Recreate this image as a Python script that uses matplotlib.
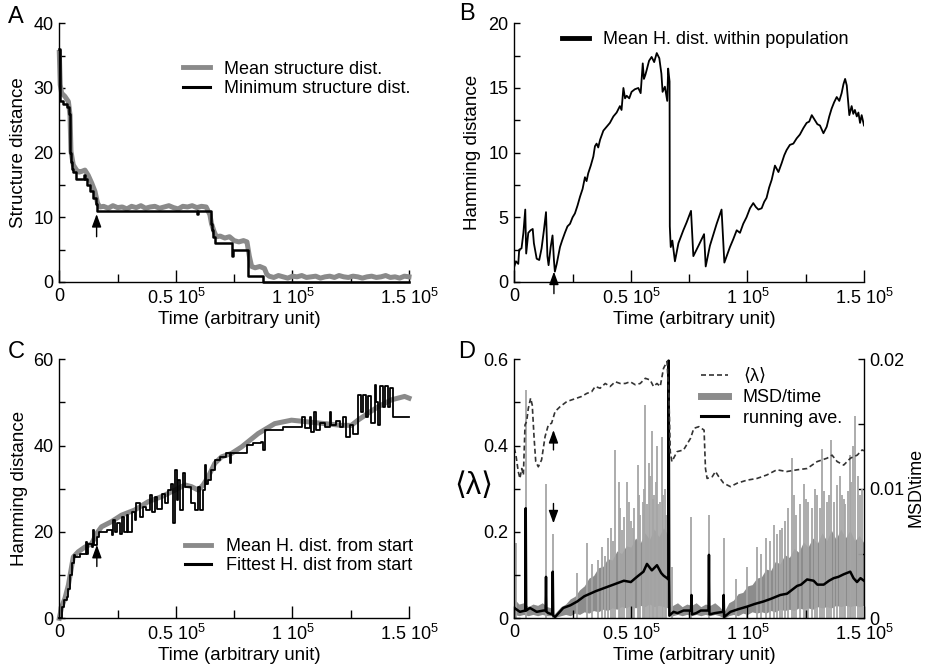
import matplotlib
matplotlib.use("Agg")
import matplotlib.pyplot as plt
from matplotlib.lines import Line2D

plt.rcParams["font.family"] = ["Liberation Sans", "DejaVu Sans"]
plt.rcParams["mathtext.fontset"] = "custom"
plt.rcParams["mathtext.rm"] = "Liberation Sans"
plt.rcParams["mathtext.it"] = "Liberation Sans:italic"
plt.rcParams["font.size"] = 13

# all times are in units of 1000 (arbitrary unit)

# --- panel A: structure distance ---
a_mean_t = [0, 0.4, 1, 2.4, 3.9, 4.6, 5, 6, 7.4, 8.5, 9.6, 11, 12.4, 13.9, 15.3, 16.4, 17.4,
            19, 21, 23, 25, 27, 29, 31, 33, 35, 37, 39, 41, 43, 45, 47, 49, 51, 53, 55, 57, 59, 61, 63,
            64.6, 65.3, 66.4, 67.4, 69, 71, 73, 75, 77, 79, 80.5, 81.5, 82.5, 84, 86, 88, 89,
            90, 92, 94, 96, 98, 100, 102, 104, 106, 108, 110, 112, 114, 116, 118, 120, 122, 124,
            126, 128, 130, 132, 134, 136, 138, 140, 142, 144, 146, 148, 150]
a_mean = [35.5, 30.5, 29.2, 28.7, 27.9, 25.8, 20.2, 18.1, 17.3, 17.0, 17.1, 17.3, 16.5, 15.3, 14.0, 12.2, 11.6,
          11.7, 11.4, 11.8, 11.5, 11.6, 11.3, 11.7, 11.5, 11.8, 11.4, 11.6, 11.7, 11.4, 11.6, 11.8, 11.5,
          11.3, 11.7, 11.6, 11.8, 11.5, 11.7, 11.6,
          10.4, 9.0, 7.8, 7.0, 7.1, 6.8, 7.0, 6.4, 6.2, 6.4, 6.2, 4.0, 2.4, 2.2, 2.4, 2.1, 1.2,
          0.9, 0.7, 1.0, 0.8, 0.6, 0.9, 0.8, 1.0, 0.7, 0.8, 0.9, 0.6, 0.8, 0.9, 0.7, 1.0, 0.8, 0.7,
          0.9, 0.8, 0.6, 0.8, 0.9, 0.7, 0.8, 1.0, 0.7, 0.8, 0.6, 0.9, 0.8]
a_min_t = [0, 0.2, 0.5, 1.7, 3.1, 4.1, 4.6, 5.0, 5.5, 6.0, 7.0, 10.5, 11.0, 11.7, 13.1, 14.6, 15.7,
           16.3, 58.9, 59.3, 65.0, 65.3, 66.1, 67.0, 73.9, 74.2, 74.5, 81.0, 87.4, 150]
a_min = [36, 32, 28, 27.5, 27, 26, 20, 18.5, 17.5, 17, 16, 16.5, 16, 15, 14, 13, 12,
         11, 10.5, 11, 9, 8, 7, 6, 5, 4, 5, 1, 0, 0]

# --- panel B: mean Hamming distance within population ---
b_t = [0, 0.7, 1.7, 2.1, 3.1, 3.9, 4.7, 5.1, 6.0, 7.0, 7.9, 8.4, 9.6, 10.7, 11.7, 12.7, 13.6,
       14.2, 14.7, 15.6, 16.4, 17.0, 17.4, 18.2, 19.6, 20.5, 21.7, 22.8, 23.9, 25.0, 26.0, 27.1,
       28.2, 29.3, 30.3, 31.0, 31.7, 32.8, 33.9, 34.6, 35.3, 36.0, 36.8, 38.2, 39.6, 41.0, 42.5,
       43.9, 45.3, 46.0, 46.8, 47.5, 48.2, 49.3, 50.3, 51.7, 53.2, 54.2, 55.1, 55.6, 56.2, 56.8,
       57.8, 58.9, 60.0, 61.1, 62.2, 63.1, 63.6, 64.6, 65.6, 66.0, 66.6, 66.7, 67.1, 67.8, 68.9,
       70.4, 72.5, 73.9, 75.8, 76.8, 79.0, 81.4, 82.1, 83.9, 86.8, 88.9, 90.1, 92.5, 93.9, 95.4,
       96.8, 98.2, 99.6, 101.1, 102.5, 103.6, 104.7, 106.1, 107.2, 108.2, 109.3, 110.4, 111.8,
       113.3, 114.7, 115.8, 116.8, 118.2, 119.7, 121.1, 122.5, 124.0, 125.4, 126.5, 127.6, 129.0,
       130.0, 131.1, 132.6, 134.0, 135.1, 136.1, 137.2, 138.3, 139.4, 140.4, 141.2, 141.9, 142.6,
       143.7, 144.7, 145.4, 146.1, 146.9, 147.6, 148.3, 149.0, 150.0]
b_val = [1.2, 1.6, 1.4, 2.5, 2.6, 3.8, 5.6, 2.2, 3.8, 4.0, 4.1, 3.0, 1.8, 1.7, 2.6, 4.0, 5.4,
         2.0, 1.3, 2.7, 3.6, 1.7, 0.8, 1.4, 2.7, 3.2, 3.8, 4.3, 4.5, 5.0, 5.3, 5.9,
         6.6, 7.2, 8.1, 7.8, 8.4, 9.0, 9.7, 10.5, 10.7, 10.4, 11.0, 11.7, 12.0, 12.3, 12.8,
         13.1, 13.6, 13.3, 15.0, 14.2, 14.4, 14.2, 14.7, 14.9, 15.0, 14.6, 16.9, 15.7, 16.0, 16.4,
         17.1, 17.4, 17.0, 17.7, 17.3, 16.1, 14.7, 15.1, 14.0, 16.5, 15.5, 4.3, 2.7, 3.2, 1.6,
         3.0, 4.0, 4.6, 5.5, 2.0, 2.8, 3.7, 1.2, 2.8, 4.5, 5.6, 1.5, 2.7, 3.3, 4.0,
         3.8, 4.5, 5.0, 5.7, 6.1, 5.8, 5.6, 5.7, 6.2, 6.5, 7.3, 7.9, 9.0,
         8.5, 9.2, 9.8, 10.2, 10.6, 10.7, 11.1, 11.4, 11.9, 12.3, 12.4, 12.9, 12.5,
         12.2, 12.1, 11.5, 12.0, 12.8, 13.4, 13.9, 14.3, 14.0, 14.6, 15.3, 15.7, 15.2,
         12.9, 13.6, 13.0, 13.3, 12.8, 13.1, 12.3, 12.9, 12.1]

# --- panel C: Hamming distance from start ---
c_mean_t = [0, 1.0, 2.4, 3.9, 5.0, 6.0, 8.1, 11.0, 13.9, 16.0, 18.1, 22.4, 26.7, 32.4, 38.1, 43.9,
            49.6, 53.9, 56.7, 59.6, 61.7, 63.9, 66.7, 69.6, 73.9, 78.2, 85.3, 92.4, 99.6, 106.7,
            113.9, 121.0, 125.3, 128.1, 132.4, 136.7, 142.4, 148.1, 150]
c_mean = [0, 2.6, 4.6, 7.7, 11.1, 14.2, 15.4, 16.5, 17.3, 19.6, 21.2, 22.4, 23.9, 25.1, 27.0, 28.2,
          29.7, 30.9, 30.5, 29.7, 30.9, 32.8, 35.9, 37.4, 38.2, 39.7, 42.8, 45.1, 45.9, 45.5,
          45.1, 44.7, 44.7, 45.9, 47.5, 49.0, 50.6, 51.4, 51.0]
c_fit_t = [0, 1.0, 2.0, 3.1, 3.9, 4.6, 5.3, 6.3, 6.7, 8.9, 11.0, 11.4, 12.0, 12.4, 13.9, 14.6, 15.0,
           16.0, 17.1, 20.3, 22.4, 23.1, 23.9, 24.6, 26.0, 26.7, 27.7, 28.9, 29.6, 31.0, 32.4, 33.1,
           34.6, 36.0, 37.4, 38.9, 39.6, 41.0, 41.7, 43.9, 45.3, 46.7, 48.1, 48.9, 49.6, 50.3, 51.0,
           51.7, 52.9, 53.9, 56.0, 56.7, 58.1, 59.6, 60.3, 61.7, 62.4, 63.1, 63.9, 64.9, 66.7, 68.9,
           71.7, 73.1, 73.6, 77.4, 80.3, 83.1, 86.7, 87.4, 88.1, 93.1, 96.0, 100.3, 103.9, 105.3,
           107.4, 108.1, 109.1, 110.3, 111.7, 113.9, 116.0, 116.7, 118.9, 120.3, 121.7, 123.1, 124.6,
           126.0, 128.1, 129.6, 130.3, 131.7, 132.4, 133.9, 135.3, 136.0, 136.7, 137.4, 138.9, 139.6,
           141.0, 141.7, 143.1, 150]
c_fit = [0, 2.6, 4.2, 5.0, 6.9, 10.0, 12.7, 14.6, 14.2, 15.0, 15.0, 17.7, 15.0, 17.3, 16.5, 20.4, 16.9,
         18.9, 20.0, 20.4, 19.3, 22.7, 20.0, 22.0, 19.6, 23.5, 20.0, 23.9, 20.0, 24.7, 22.7, 26.6,
         23.5, 25.8, 25.1, 28.5, 24.7, 28.2, 25.4, 28.9, 26.6, 29.7, 31.2, 22.0, 34.3, 27.4, 32.0,
         25.1, 33.6, 30.5, 30.5, 26.6, 25.1, 30.5, 25.1, 29.7, 35.5, 31.2, 32.0, 34.3, 36.7, 37.4,
         38.2, 35.9, 38.2, 38.2, 40.1, 40.5, 40.9, 39.0, 43.6, 43.6, 44.4, 44.4, 46.7, 44.0,
         46.7, 43.2, 47.9, 43.6, 45.2, 44.4, 47.9, 44.8, 45.6, 44.4, 46.7, 42.1, 44.8,
         42.8, 51.7, 47.9, 51.7, 46.7, 51.4, 45.2, 54.1, 50.0, 44.8, 53.7, 49.0, 53.7,
         49.0, 53.3, 46.7, 46.7]

# --- panel D: <lambda> (left) and MSD/time (right) ---
d_lam_t = [0, 0.7, 1.7, 2.4, 3.2, 3.9, 4.6, 5.3, 6.0, 7.0, 7.7, 8.5, 9.2, 10.3, 11.7, 13.2, 14.6,
           16.0, 17.5, 19.6, 22.5, 24.6, 26.8, 28.9, 31.1, 33.2, 34.7, 36.8, 39.0, 41.1, 43.3, 45.4,
           47.6, 49.7, 51.9, 54.0, 56.2, 58.3, 59.7, 61.2, 62.6, 64.0, 65.5, 66.3, 66.9, 67.6, 69.8,
           72.6, 75.6, 77.0, 79.2, 81.4, 82.0, 82.7, 84.9, 86.3, 87.7, 89.8, 92.7, 95.6, 99.8, 104.1,
           108.3, 112.6, 116.9, 121.3, 125.6, 129.9, 134.2, 136.3, 138.5, 141.3, 144.2, 147.1, 149.2, 150]
d_lam = [0.394, 0.378, 0.340, 0.324, 0.347, 0.332, 0.448, 0.456, 0.486, 0.510, 0.494, 0.417, 0.363,
         0.351, 0.367, 0.421, 0.448, 0.452, 0.479, 0.490, 0.502, 0.506, 0.510, 0.514, 0.521, 0.525,
         0.537, 0.533, 0.544, 0.537, 0.548, 0.544, 0.544, 0.548, 0.541, 0.544, 0.556, 0.552, 0.537,
         0.544, 0.537, 0.579, 0.595, 0.517, 0.386, 0.363, 0.386, 0.390, 0.417, 0.440, 0.444, 0.436,
         0.347, 0.324, 0.328, 0.340, 0.328, 0.313, 0.305, 0.313, 0.320, 0.324, 0.332, 0.344, 0.340,
         0.344, 0.347, 0.363, 0.371, 0.378, 0.363, 0.355, 0.371, 0.378, 0.390, 0.388]

d_band_t = [0, 2, 4, 6, 8, 10, 12, 14, 16, 17, 18, 20, 22, 24, 26, 28, 30, 32, 34, 36, 38, 40, 42, 44,
            46, 48, 50, 52, 54, 56, 58, 60, 62, 64, 66, 67, 68, 70, 72, 74, 76, 78, 80, 82, 84, 86, 88,
            90, 92, 94, 96, 98, 100, 102, 104, 106, 108, 110, 112, 114, 116, 118, 120, 122, 124, 126,
            128, 130, 132, 134, 136, 138, 140, 142, 144, 146, 148, 150]
d_band_hi = [0.0015, 0.0011, 0.0012, 0.0009, 0.0011, 0.0010, 0.0012, 0.0009, 0.0008, 0.0003, 0.0005,
             0.0009, 0.0011, 0.0015, 0.0017, 0.0022, 0.0025, 0.0031, 0.0033, 0.0039, 0.0040, 0.0046,
             0.0045, 0.0052, 0.0050, 0.0056, 0.0055, 0.0062, 0.0058, 0.0066, 0.0061, 0.0069, 0.0063,
             0.0070, 0.0064, 0.0009, 0.0010, 0.0012, 0.0009, 0.0011, 0.0010, 0.0012, 0.0009, 0.0011,
             0.0010, 0.0012, 0.0009, 0.0005, 0.0012, 0.0014, 0.0019, 0.0020, 0.0025, 0.0026, 0.0031,
             0.0032, 0.0038, 0.0037, 0.0044, 0.0042, 0.0049, 0.0047, 0.0054, 0.0051, 0.0059, 0.0055,
             0.0062, 0.0058, 0.0066, 0.0060, 0.0068, 0.0061, 0.0069, 0.0062, 0.0068, 0.0060, 0.0064,
             0.0058]
d_band_lo = [0.0003, 0.0002, 0.0003, 0.0002, 0.0003, 0.0002, 0.0003, 0.0002, 0.0002, 0.0000, 0.0001,
             0.0002, 0.0003, 0.0002, 0.0004, 0.0003, 0.0005, 0.0004, 0.0006, 0.0005, 0.0007, 0.0006,
             0.0008, 0.0007, 0.0009, 0.0008, 0.0010, 0.0008, 0.0010, 0.0009, 0.0011, 0.0009, 0.0010,
             0.0009, 0.0008, 0.0001, 0.0002, 0.0003, 0.0002, 0.0003, 0.0002, 0.0003, 0.0002, 0.0003,
             0.0002, 0.0003, 0.0002, 0.0000, 0.0002, 0.0003, 0.0002, 0.0004, 0.0003, 0.0005, 0.0004,
             0.0005, 0.0004, 0.0006, 0.0005, 0.0007, 0.0006, 0.0007, 0.0006, 0.0008, 0.0007, 0.0008,
             0.0007, 0.0009, 0.0008, 0.0009, 0.0008, 0.0010, 0.0009, 0.0010, 0.0009, 0.0010, 0.0009,
             0.0010]
d_spike_t = [0.7, 4.9, 13.6, 16.5, 27, 31, 36, 40, 43.3, 44.8, 46, 48.3, 50, 51.5, 52.9, 54, 55, 56.2,
             57.7, 59, 60, 61.2, 62.5, 63.3, 64.5, 67.5, 76, 83.5, 89.8, 95, 100, 104, 108, 111.2, 114,
             116, 119, 121, 124.4, 126, 127.6, 130, 131.9, 134, 135.7, 138.4, 140.5, 142, 143.8, 145.4,
             146.1, 147.5, 149,
             33.5, 37.5, 38.8, 41.5, 42.3, 45.5, 47, 49.2, 50.8, 53.6, 55.6, 57, 58.3, 59.6, 60.6,
             61.8, 63.8, 65.2, 106, 109.5, 112.5, 115, 117.5, 120, 122.5, 125.2, 128.8, 131, 133,
             135, 137, 139.5, 141.3, 143, 144.6, 148.2]
d_spike = [0.0058, 0.0176, 0.0104, 0.0065, 0.0035, 0.0058, 0.0045, 0.0062, 0.0130, 0.0105, 0.0068,
           0.0105, 0.0075, 0.0085, 0.0118, 0.0080, 0.0090, 0.0165, 0.0120, 0.0145, 0.0095, 0.0133,
           0.0090, 0.0140, 0.0100, 0.0040, 0.0078, 0.0080, 0.0062, 0.0030, 0.0040, 0.0055, 0.0062,
           0.0072, 0.0068, 0.0075, 0.0124, 0.0080, 0.0104, 0.0090, 0.0085, 0.0095, 0.0131, 0.0090,
           0.0138, 0.0103, 0.0095, 0.0088, 0.0126, 0.0133, 0.0156, 0.0110, 0.0100,
           0.0042, 0.0055, 0.0048, 0.0070, 0.0060, 0.0085, 0.0078, 0.0090, 0.0070, 0.0095, 0.0100,
           0.0088, 0.0110, 0.0092, 0.0105, 0.0088, 0.0095, 0.0080, 0.0050, 0.0060, 0.0065, 0.0070,
           0.0085, 0.0095, 0.0088, 0.0092, 0.0100, 0.0085, 0.0098, 0.0095, 0.0090, 0.0110, 0.0092,
           0.0098, 0.0105, 0.0095]
d_run_t = [0, 2.4, 4.7, 4.9, 5.1, 6.7, 9.6, 12.5, 13.4, 13.6, 13.8, 14.6, 16.3, 16.5, 16.7, 17.5, 21,
           24, 27, 30, 32.5, 35, 38, 41, 44, 47, 50, 52.6, 55.4, 56.9, 59, 61.2, 63, 64, 65.5, 66.1,
           66.2, 66.5, 68.3, 70, 72.6, 75.8, 76, 76.2, 78, 80, 83.3, 83.5, 83.7, 86, 89.6, 89.8, 90.0,
           92.7, 96, 99.8, 103, 106.9, 110, 114.1, 117, 121.3, 123, 125.6, 128.4, 130, 132.7, 135,
           137, 139, 141.3, 144.1, 145.5, 147, 148.5, 150]
d_run = [0.0008, 0.0005, 0.0006, 0.0085, 0.0006, 0.0008, 0.0005, 0.0006, 0.0006, 0.0032, 0.0005,
         0.0004, 0.0003, 0.0036, 0.0002, 0.0001, 0.0008, 0.0010, 0.0013, 0.0017, 0.0019, 0.0021,
         0.0023, 0.0025, 0.0027, 0.0029, 0.0028, 0.0032, 0.0036, 0.0042, 0.0037, 0.0041, 0.0035,
         0.0033, 0.0031, 0.0030, 0.0199, 0.0002, 0.0005, 0.0004, 0.0006, 0.0006, 0.0018, 0.0003,
         0.0004, 0.0006, 0.0006, 0.0049, 0.0003, 0.0004, 0.0005, 0.0018, 0.0001, 0.0005, 0.0007,
         0.0009, 0.0011, 0.0013, 0.0015, 0.0018, 0.0019, 0.0025, 0.0026, 0.0030, 0.0029, 0.0026,
         0.0026, 0.0029, 0.0031, 0.0032, 0.0034, 0.0036, 0.0031, 0.0028, 0.0031, 0.0029]

K = 1000.0
XTICKS = [0, 50000, 100000, 150000]
XLABELS = ["0", r"0.5 $10^{5}$", r"1 $10^{5}$", r"1.5 $10^{5}$"]
GRAY = "#8a8a8a"
FS = 13


def ms(ts):
    return [t * K for t in ts]


def style(ax, ymax, ymajor, yminor, ylab_x=-0.092):
    ax.set_xlim(0, 150000)
    ax.set_ylim(0, ymax)
    ax.spines[["top", "right"]].set_visible(False)
    for s in ax.spines.values():
        s.set_linewidth(1.0)
    ax.set_xticks(XTICKS)
    ax.set_xticklabels(XLABELS)
    ax.set_xticks([25000, 75000, 125000], minor=True)
    ax.set_yticks(ymajor)
    ax.set_yticks(yminor, minor=True)
    ax.tick_params(which="both", direction="in", width=1, labelsize=FS)
    ax.tick_params(axis="x", which="major", length=9, pad=4)
    ax.tick_params(axis="x", which="minor", length=5.5)
    ax.tick_params(axis="y", which="both", length=4.5, pad=4)
    ax.set_xlabel("Time (arbitrary unit)", fontsize=13.5)
    ax.xaxis.set_label_coords(0.515, -0.112)
    ax.yaxis.set_label_coords(ylab_x, 0.5)


def arrow(ax, t, y0, y1):
    ax.annotate("", xy=(t * K, y1), xytext=(t * K, y0), annotation_clip=False,
                arrowprops=dict(arrowstyle="-|>,head_length=0.6,head_width=0.22",
                                color="k", lw=1.0, shrinkA=0, shrinkB=0))


fig = plt.figure(figsize=(9.25, 6.69), dpi=100)
W, H = 925.0, 669.0
axA = fig.add_axes([59.3 / W, 1 - 282 / H, 349.7 / W, 258.7 / H])
axB = fig.add_axes([514.3 / W, 1 - 282 / H, 349.7 / W, 258.7 / H])
axC = fig.add_axes([59.3 / W, 1 - 618.3 / H, 349.7 / W, 259 / H])
axD = fig.add_axes([514.3 / W, 1 - 618.3 / H, 349.7 / W, 259 / H])

# A
axA.plot(ms(a_mean_t), a_mean, color=GRAY, lw=3.6, clip_on=False)
axA.plot(ms(a_min_t), a_min, color="k", lw=1.8, drawstyle="steps-post", clip_on=False)
style(axA, 40, [0, 10, 20, 30, 40], [5, 15, 25, 35])
axA.set_ylabel("Structure distance", fontsize=13.5)
arrow(axA, 16.0, 7.0, 10.5)
hA = [Line2D([], [], color=GRAY, lw=3.5), Line2D([], [], color="k", lw=2.2)]
axA.legend(hA, ["Mean structure dist.", "Minimum structure dist."], loc="upper left",
           bbox_to_anchor=(0.355, 0.855), frameon=False, handlelength=1.45, handletextpad=0.8,
           labelspacing=0.12, borderpad=0, borderaxespad=0, fontsize=FS)

# B
axB.plot(ms(b_t), b_val, color="k", lw=1.3)
style(axB, 20, [0, 5, 10, 15, 20], [2.5, 7.5, 12.5, 17.5], ylab_x=-0.095)
axB.set_ylabel("Hamming distance", fontsize=13.5)
arrow(axB, 17.0, -0.9, 0.8)
axB.legend([Line2D([], [], color="k", lw=3.5)], ["Mean H. dist. within population"],
           loc="upper left", bbox_to_anchor=(0.135, 0.97), frameon=False, handlelength=1.55,
           handletextpad=0.75, borderpad=0, borderaxespad=0, fontsize=FS)

# C
axC.plot(ms(c_mean_t), c_mean, color=GRAY, lw=3.6, clip_on=False)
axC.plot(ms(c_fit_t), c_fit, color="k", lw=1.3, drawstyle="steps-post", clip_on=False)
style(axC, 60, [0, 20, 40, 60], [10, 30, 50], ylab_x=-0.09)
axC.set_ylabel("Hamming distance", fontsize=13.5)
arrow(axC, 16.1, 12.0, 17.0)
hC = [Line2D([], [], color=GRAY, lw=3.5), Line2D([], [], color="k", lw=2.2)]
axC.legend(hC, ["Mean H. dist. from start", "Fittest H. dist from start"], loc="upper left",
           bbox_to_anchor=(0.36, 0.31), frameon=False, handlelength=1.45, handletextpad=0.8,
           labelspacing=0.12, borderpad=0, borderaxespad=0, fontsize=FS)

# D
axD2 = axD.twinx()
axD2.fill_between(ms(d_band_t), d_band_lo, d_band_hi, color="#8c8c8c", lw=0)
axD2.vlines(ms(d_spike_t), 0, d_spike, color="#a6a6a6", lw=1.3)
axD2.plot(ms(d_run_t), d_run, color="k", lw=1.8)
axD.plot(ms(d_lam_t), d_lam, color="#333333", lw=1.2, dashes=(3, 1.8))
axD.set_zorder(axD2.get_zorder() + 1)
axD.patch.set_visible(False)
style(axD, 0.6, [0, 0.2, 0.4, 0.6], [0.1, 0.3, 0.5])
axD.set_yticklabels(["0", "0.2", "0.4", "0.6"])
axD2.set_ylim(0, 0.02)
axD2.set_yticks([0, 0.01, 0.02])
axD2.set_yticklabels(["0", "0.01", "0.02"])
axD2.set_yticks([0.005, 0.015], minor=True)
axD2.tick_params(which="both", direction="in", width=1, labelsize=FS, length=4.5, pad=4)
axD2.spines[["top", "left", "bottom"]].set_visible(False)
axD2.spines["right"].set_linewidth(1.0)
axD.set_ylabel("⟨λ⟩", fontsize=22, rotation=0, ha="center", va="center")
axD.yaxis.set_label_coords(-0.115, 0.51)
axD2.set_ylabel("MSD\\time", fontsize=13, rotation=90, ha="center", va="center")
axD2.yaxis.set_label_coords(1.148, 0.507)
arrow(axD, 16.8, 0.39, 0.436)
arrow(axD, 16.8, 0.266, 0.22)
hD = [Line2D([], [], color="#333333", lw=1.2, dashes=(3, 1.8)),
      Line2D([], [], color="#8c8c8c", lw=5),
      Line2D([], [], color="k", lw=2.2)]
axD.legend(hD, ["⟨λ⟩", "MSD/time", "running ave."], loc="upper left",
           bbox_to_anchor=(0.535, 0.965), frameon=False, handlelength=1.5, handletextpad=0.8,
           labelspacing=0.2, borderpad=0, borderaxespad=0, fontsize=FS)

for lab, x, y in [("A", 16, 17), ("B", 467, 14), ("C", 16, 352), ("D", 467, 352)]:
    fig.text(x / W, 1 - y / H, lab, fontsize=17, ha="center", va="center")

fig.savefig("out.png", dpi=100)
